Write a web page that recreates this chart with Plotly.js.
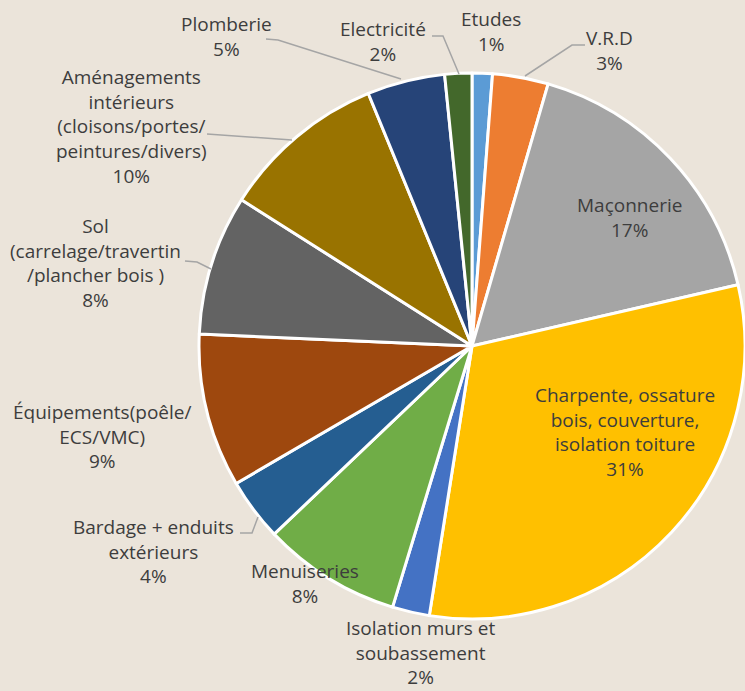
<!DOCTYPE html>
<html>
<head>
<meta charset="utf-8">
<script src="https://cdn.plot.ly/plotly-3.0.1.min.js"></script>
<style>
  html, body { margin: 0; padding: 0; background: #ebe4da; }
  #chart { width: 745px; height: 691px; }
</style>
</head>
<body>
<div id="chart"></div>
<script>
// ---- data (clockwise from 12 o'clock) ----
const categories = [
  "Etudes",
  "V.R.D",
  "Maçonnerie",
  "Charpente, ossature<br>bois, couverture,<br>isolation toiture",
  "Isolation murs et<br>soubassement",
  "Menuiseries",
  "Bardage + enduits<br>extérieurs",
  "Équipements(poêle/<br>ECS/VMC)",
  "Sol<br>(carrelage/travertin<br>/plancher bois )",
  "Aménagements<br>intérieurs<br>(cloisons/portes/<br>peintures/divers)",
  "Plomberie",
  "Electricité"
];
const shares = [1.2, 3.3, 16.9, 31.1, 2.2, 8.2, 3.7, 9.1, 8.3, 9.8, 4.6, 1.6];
const colors = ["#5b9bd5", "#ed7d31", "#a5a5a5", "#ffc000", "#4472c4", "#70ad47",
                "#255e91", "#9e480e", "#636363", "#997300", "#264478", "#43682b"];

// ---- layout helpers (label placement, in page pixels) ----
const W = 745, H = 691;
const px = x => x / W;
const py = y => 1 - y / H;
const labelPos = [
  [491, 32], [609, 50], [629, 217], [625, 432], [420, 652], [305, 583],
  [153, 551], [102, 436], [95, 263], [131, 127], [226, 37], [383, 42]
];
const leaders = [
  [[266, 39], [278, 40], [401, 79]],        // Plomberie
  [[432, 36], [443, 36], [459, 74]],        // Electricité
  [[585, 45], [572, 45], [525, 76]],        // V.R.D
  [[207, 134], [292, 140]],                 // Aménagements
  [[185, 261], [197, 262], [211, 269]],     // Sol
  [[240, 533], [252, 533], [258, 517]]      // Bardage
];

const total = shares.reduce((a, b) => a + b, 0);
const annotations = categories.map((c, i) => ({
  x: px(labelPos[i][0]), y: py(labelPos[i][1]),
  xref: "paper", yref: "paper",
  xanchor: "center", yanchor: "middle", align: "center",
  showarrow: false,
  text: c + "<br>" + Math.round(shares[i] / total * 100) + "%",
  font: { family: "Open Sans", size: 19, color: "#3d3d3d" }
}));

const shapes = leaders.map(pts => ({
  type: "path", xref: "paper", yref: "paper",
  path: pts.map((p, k) => (k ? "L" : "M") + px(p[0]) + "," + py(p[1])).join(" "),
  line: { color: "#a5a5a5", width: 1.5 }
}));

const trace = {
  type: "pie",
  labels: categories,
  values: shares,
  sort: false,
  direction: "clockwise",
  rotation: 0,
  textinfo: "none",
  hoverinfo: "label+percent",
  marker: { colors: colors, line: { color: "#ffffff", width: 3 } },
  domain: { x: [199 / W, 1], y: [1 - 620 / H, 1 - 72 / H] }
};

const layout = {
  width: W, height: H,
  margin: { l: 0, r: 0, t: 0, b: 0 },
  paper_bgcolor: "#ebe4da",
  plot_bgcolor: "#ebe4da",
  showlegend: false,
  annotations: annotations,
  shapes: shapes,
  font: { family: "Open Sans", color: "#3d3d3d" }
};

Plotly.newPlot("chart", [trace], layout, { displayModeBar: false, staticPlot: true });
</script>
</body>
</html>
